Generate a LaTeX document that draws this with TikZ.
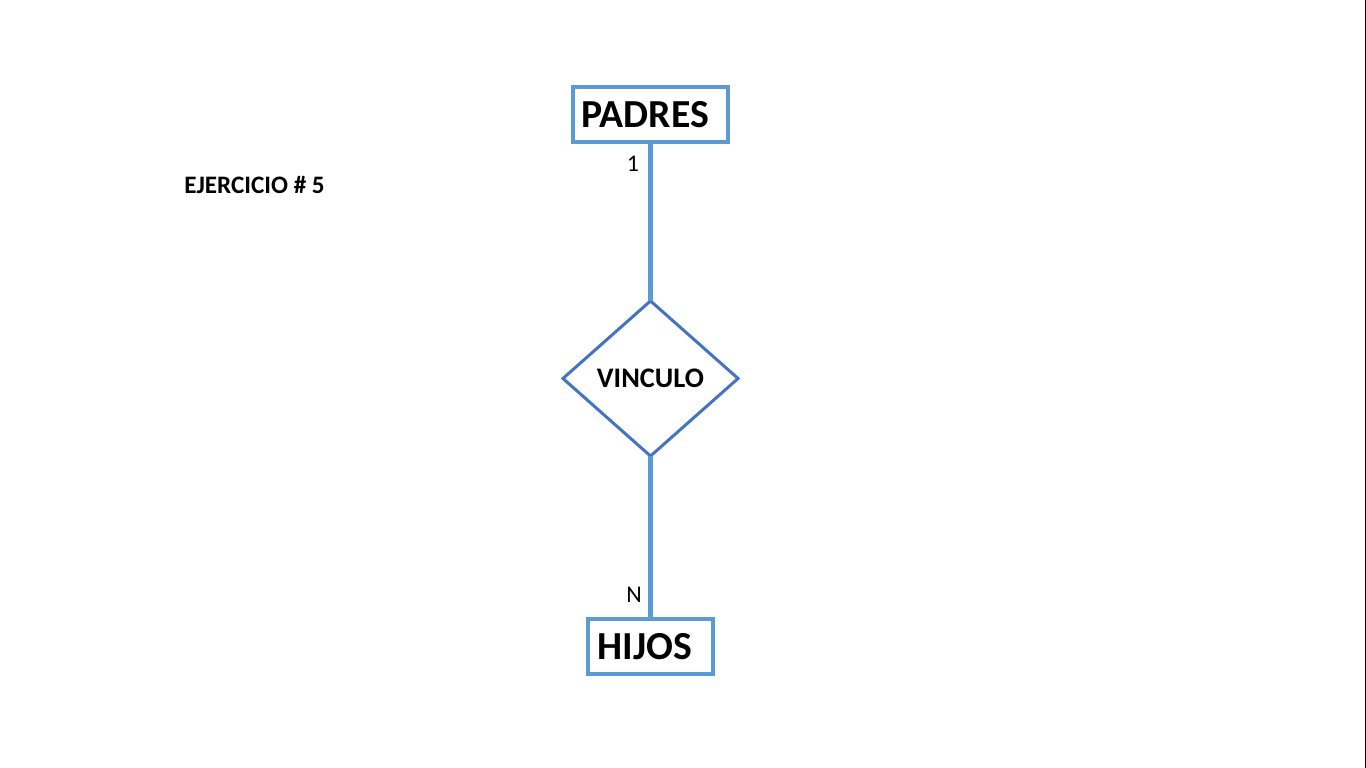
\documentclass[tikz,border=0pt]{standalone}
\usepackage{fontspec}
\setmainfont{Carlito}
\usetikzlibrary{shapes.geometric}

\begin{document}
\begin{tikzpicture}[
		x=0.01cm, y=-0.01cm,
		%Options for the boxes and lines
		inner sep=0pt, outer sep=0pt,%
		entity/.style={draw=boxblue, line width=1.15pt, minimum width=1.55cm, minimum height=0.55cm,
			font=\fontsize{11.3}{14}\selectfont\bfseries},
		relation/.style={diamond, draw=diamblue, line width=0.85pt, minimum width=1.75cm, minimum height=1.55cm,
			font=\fontsize{8.05}{10}\selectfont\bfseries},
		link/.style={draw=boxblue, line width=1.4pt},
		card/.style={font=\fontsize{6.8}{8}\selectfont},
	]
		% Colors
		\definecolor{boxblue}{RGB}{91,155,213}
		\definecolor{diamblue}{RGB}{68,114,196}

		% Frame
		\useasboundingbox (0,0) rectangle (1366,768);
		\fill[black] (1365,0) rectangle (1366,768);

		% Title
		\node[font=\fontsize{7.15}{9}\selectfont\bfseries] (title) at (254.5,185) {EJERCICIO \# 5};

		% Entities and relation
		\node[entity] (padres) at (650.5,114.5) {PADRES\kern3.1pt};
		\node[relation] (vinculo) at (650.5,378.5) {VINCULO};
		\node[entity, minimum width=1.24cm] (hijos) at (650.5,646.5) {HIJOS\kern3.1pt};

		% Links
		\draw[link] (padres.south) -- (vinculo.north);
		\draw[link] (vinculo.south) -- (hijos.north);

		% Cardinalities
		\node[card] (one) at (633,164) {1};
		\node[card] (many) at (634,595) {N};
	\end{tikzpicture}
\end{document}
